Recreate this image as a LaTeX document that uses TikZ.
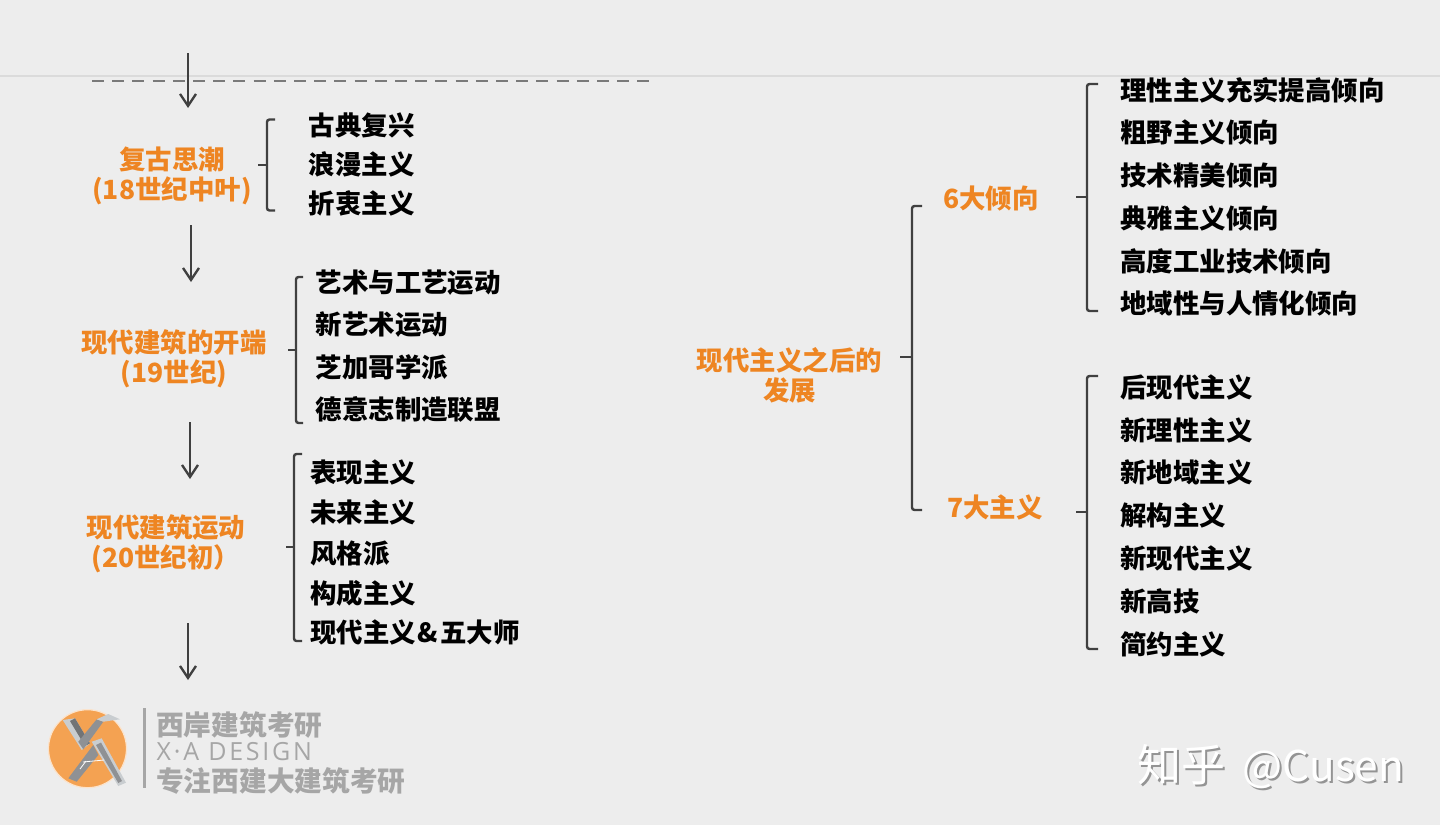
\documentclass[tikz,border=0pt]{standalone}
\usepackage{fontspec}
\setmainfont{Noto Sans CJK SC}
\newfontfamily\latinlogo[LetterSpace=11]{Open Sans}
\usetikzlibrary{arrows.meta}
\definecolor{bgc}{HTML}{EDEDED}
\definecolor{orangetxt}{HTML}{EE8522}
\definecolor{ink}{HTML}{404040}
\definecolor{logotxt}{HTML}{A6A6A6}
\definecolor{logodisc}{HTML}{F4A252}
\definecolor{logolight}{HTML}{C9CDD0}
\definecolor{logodark}{HTML}{8F9194}
\tikzset{
  x=1pt,y=-1pt,
  item/.style={anchor=west,inner sep=0pt,text=black,font=\fontsize{26.45}{30}\selectfont\bfseries,text height=23pt,text depth=3.2pt},
  head/.style={anchor=center,inner sep=0pt,text=orangetxt,align=center,font=\fontsize{26.45}{30}\selectfont\bfseries,text height=23pt,text depth=3.2pt},
  flow/.style={draw=ink,line width=2.3pt,-{Straight Barb[length=12pt,width=16pt,line width=2.3pt]}},
  bracket/.style={draw=ink,line width=2.4pt,rounded corners=2.5pt},
  tick/.style={draw=ink,line width=2.4pt},
  logotext/.style={anchor=west,inner sep=0pt,text=logotxt,font=\fontsize{27.7}{30}\selectfont\bfseries,text height=24pt,text depth=3.4pt},
  wm/.style={anchor=west,inner sep=0pt,font=\fontsize{44}{50}\selectfont,text height=38pt,text depth=5.3pt},
}
\newcommand{\wmtext}{知乎\hspace{17pt}{\fontsize{42.4}{50}\selectfont @Cusen}}
\begin{document}
\begin{tikzpicture}
\useasboundingbox (0,0) rectangle (1440,825);
\fill[bgc] (0,0) rectangle (1440,825);
\coordinate (rl) at (0,76); \coordinate (rr) at (1440,76);
\draw[color=black!14,line width=1.3pt] (rl) -- (rr);
\coordinate (dl) at (92,81); \coordinate (dr) at (650,81);
\draw[color=black!52,line width=2.8pt,dash pattern=on 12pt off 8.2pt] (dl) -- (dr);

% flow arrows
\coordinate (a1s) at (188,53);  \coordinate (a1e) at (188,108);
\coordinate (a2s) at (191,225); \coordinate (a2e) at (191,282);
\coordinate (a3s) at (190,422); \coordinate (a3e) at (190,479);
\coordinate (a4s) at (188,623); \coordinate (a4e) at (188,680);
\draw[flow] (a1s) -- (a1e);
\draw[flow] (a2s) -- (a2e);
\draw[flow] (a3s) -- (a3e);
\draw[flow] (a4s) -- (a4e);

% group 1
\node[head] (h1) at (172,190) {复古思潮\\(18世纪中叶)};
\node[item] (g1a) at (308.5,126) {古典复兴};
\node[item] (g1b) at (308.5,165) {浪漫主义};
\node[item] (g1c) at (308.5,204) {折衷主义};
\coordinate (b1t) at (275,119.5); \coordinate (b1c) at (267,119.5); \coordinate (b1d) at (267,210.5); \coordinate (b1b) at (275,210.5);
\coordinate (b1m) at (267,165); \coordinate (b1k) at (258,165);
\draw[bracket] (b1t) -- (b1c) -- (b1d) -- (b1b);
\draw[tick] (b1k) -- (b1m);

% group 2
\node[head] (h2) at (174,373) {现代建筑的开端\\(19世纪)};
\node[item] (g2a) at (315.5,283) {艺术与工艺运动};
\node[item] (g2b) at (315.5,325) {新艺术运动};
\node[item] (g2c) at (315.5,368) {芝加哥学派};
\node[item] (g2d) at (315.5,410) {德意志制造联盟};
\coordinate (b2t) at (303,277); \coordinate (b2c) at (296,277); \coordinate (b2d) at (296,423); \coordinate (b2b) at (303,423);
\coordinate (b2m) at (296,350); \coordinate (b2k) at (288,350);
\draw[bracket] (b2t) -- (b2c) -- (b2d) -- (b2b);
\draw[tick] (b2k) -- (b2m);

% group 3
\node[head] (h3) at (166,558) {现代建筑运动\\(20世纪初）};
\node[item] (g3a) at (310,473) {表现主义};
\node[item] (g3b) at (310,513) {未来主义};
\node[item] (g3c) at (310,554) {风格派};
\node[item] (g3d) at (310,594) {构成主义};
\node[item] (g3e) at (310,633) {现代主义\hspace{2pt}\&\hspace{2pt}五大师};
\coordinate (b3t) at (302,454); \coordinate (b3c) at (294,454); \coordinate (b3d) at (294,641); \coordinate (b3b) at (302,641);
\coordinate (b3m) at (294,547); \coordinate (b3k) at (286,547);
\draw[bracket] (b3t) -- (b3c) -- (b3d) -- (b3b);
\draw[tick] (b3k) -- (b3m);

% right main
\node[head] (h4) at (789.5,391) {现代主义之后的\\发展};
\coordinate (b4t) at (922,206); \coordinate (b4c) at (912,206); \coordinate (b4d) at (912,510); \coordinate (b4b) at (922,510);
\coordinate (b4m) at (912,357); \coordinate (b4k) at (900,357);
\draw[bracket] (b4t) -- (b4c) -- (b4d) -- (b4b);
\draw[tick] (b4k) -- (b4m);

\node[head] (h5) at (991,198.5) {6大倾向};
\node[head] (h6) at (995,507.5) {7大主义};

\coordinate (b5t) at (1098,84); \coordinate (b5c) at (1087,84); \coordinate (b5d) at (1087,311); \coordinate (b5b) at (1098,311);
\coordinate (b5m) at (1087,197); \coordinate (b5k) at (1076,197);
\draw[bracket] (b5t) -- (b5c) -- (b5d) -- (b5b);
\draw[tick] (b5k) -- (b5m);
\node[item] (r1a) at (1120,91) {理性主义充实提高倾向};
\node[item] (r1b) at (1120,133) {粗野主义倾向};
\node[item] (r1c) at (1120,176) {技术精美倾向};
\node[item] (r1d) at (1120,219) {典雅主义倾向};
\node[item] (r1e) at (1120,262) {高度工业技术倾向};
\node[item] (r1f) at (1120,304) {地域性与人情化倾向};

\coordinate (b6t) at (1098,376); \coordinate (b6c) at (1087,376); \coordinate (b6d) at (1087,649); \coordinate (b6b) at (1098,649);
\coordinate (b6m) at (1087,512); \coordinate (b6k) at (1076,512);
\draw[bracket] (b6t) -- (b6c) -- (b6d) -- (b6b);
\draw[tick] (b6k) -- (b6m);
\node[item] (r2a) at (1120,388) {后现代主义};
\node[item] (r2b) at (1120,431) {新理性主义};
\node[item] (r2c) at (1120,473) {新地域主义};
\node[item] (r2d) at (1120,516) {解构主义};
\node[item] (r2e) at (1120,559) {新现代主义};
\node[item] (r2f) at (1120,602) {新高技};
\node[item] (r2g) at (1120,645) {简约主义};

% logo
\fill[logodisc,draw=white!70!logodisc,line width=1.2pt] (87.5,748.7) circle (39);
\fill[logolight] (62.7,720) -- (75,718.3) -- (90,743.3) -- (81.7,750) -- cycle;
\fill[logodark!80!black] (70,721) -- (75,718.3) -- (90,743.3) -- (85,746) -- cycle;
\fill[logodark] (96.7,719.3) -- (103.3,721.7) -- (83.3,749.3) -- (78.3,741.7) -- cycle;
\fill[logolight] (96.7,719.3) -- (108.3,714) -- (120,719.3) -- (103.3,721.7) -- cycle;
\fill[logodark] (93.3,745) -- (98.3,755) -- (76.7,781.7) -- (68.3,778.3) -- cycle;
\fill[logolight] (91.7,741.7) -- (101.7,738.3) -- (126,782.7) -- (118.3,786) -- cycle;
\fill[logodark] (96,745) -- (101,742.5) -- (122,781) -- (118.3,783) -- cycle;
\draw[white,line width=.8pt] (83,762) -- (104,760);
\draw[white,line width=.8pt] (80,769) -- (86,761);
\fill[logotxt] (142.5,708) rectangle (145.5,788);
\node[logotext] (lg1) at (156,725) {西岸建筑考研};
\node[anchor=west,inner sep=0pt,text=logotxt,font=\latinlogo\fontsize{25}{30}\selectfont] (lg2) at (156.5,752) {X·A DESIGN};
\node[logotext] (lg3) at (156,781) {专注西建大建筑考研};

% watermark
\node[wm,text=black!42] (wm2) at (1139.5,767.5) {\wmtext};
\node[wm,text=white] (wm1) at (1137.5,765.5) {\wmtext};
\end{tikzpicture}
\end{document}
